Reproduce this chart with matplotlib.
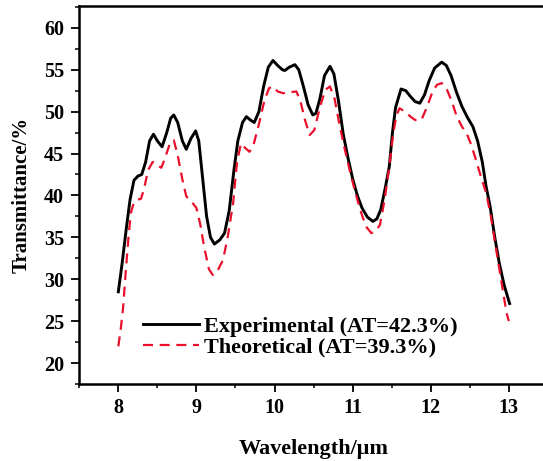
import numpy as np
import matplotlib.pyplot as plt
from matplotlib.ticker import MultipleLocator

# measured (black) curve
wl_exp = [8.00, 8.05, 8.10, 8.15, 8.20, 8.25, 8.30, 8.35, 8.40, 8.45,
          8.50, 8.56, 8.62, 8.67, 8.71, 8.76, 8.82, 8.87, 8.93, 8.99,
          9.03, 9.08, 9.13, 9.18, 9.23, 9.30, 9.36, 9.42, 9.48, 9.53,
          9.59, 9.64, 9.69, 9.74, 9.80, 9.86, 9.92, 9.98, 10.04, 10.10,
          10.13, 10.19, 10.26, 10.31, 10.37, 10.43, 10.49, 10.53, 10.58, 10.64,
          10.71, 10.76, 10.82, 10.88, 10.94, 11.00, 11.06, 11.12, 11.19, 11.26,
          11.31, 11.36, 11.42, 11.47, 11.51, 11.55, 11.62, 11.68, 11.74, 11.80,
          11.86, 11.92, 11.98, 12.05, 12.14, 12.20, 12.26, 12.33, 12.40, 12.47,
          12.54, 12.60, 12.66, 12.71, 12.76, 12.82, 12.88, 12.94, 13.01]
t_exp = [28.5, 32.0, 35.9, 39.5, 41.8, 42.3, 42.5, 44.0, 46.5, 47.3,
         46.5, 45.8, 47.5, 49.2, 49.6, 48.7, 46.5, 45.5, 46.8, 47.7,
         46.5, 42.0, 37.5, 35.0, 34.2, 34.7, 35.5, 38.2, 43.0, 46.5,
         48.7, 49.4, 49.0, 48.7, 50.0, 53.0, 55.3, 56.1, 55.5, 55.0,
         54.9, 55.3, 55.6, 55.0, 53.0, 50.8, 49.6, 49.8, 51.5, 54.3,
         55.4, 54.5, 51.2, 47.3, 44.5, 42.0, 40.0, 38.5, 37.4, 36.9,
         37.2, 38.3, 41.0, 43.5, 47.5, 50.5, 52.7, 52.5, 51.8, 51.2,
         51.0, 52.0, 53.7, 55.2, 55.9, 55.5, 54.3, 52.3, 50.6, 49.3,
         48.2, 46.5, 44.0, 41.0, 38.7, 35.0, 31.8, 29.3, 27.1]

# simulated (red dashed) curve
wl_th = [8.00, 8.03, 8.06, 8.10, 8.13, 8.16, 8.20, 8.25, 8.29, 8.33,
         8.38, 8.44, 8.50, 8.55, 8.60, 8.66, 8.71, 8.76, 8.82, 8.87,
         8.95, 9.00, 9.05, 9.10, 9.16, 9.21, 9.28, 9.34, 9.40, 9.47,
         9.52, 9.57, 9.62, 9.68, 9.73, 9.80, 9.87, 9.93, 9.98, 10.04,
         10.11, 10.19, 10.28, 10.33, 10.39, 10.45, 10.51, 10.58, 10.65, 10.71,
         10.77, 10.83, 10.90, 10.96, 11.03, 11.10, 11.17, 11.24, 11.30, 11.35,
         11.41, 11.47, 11.52, 11.56, 11.60, 11.67, 11.74, 11.80, 11.88, 11.95,
         12.02, 12.08, 12.14, 12.20, 12.27, 12.33, 12.40, 12.46, 12.52, 12.58,
         12.65, 12.71, 12.77, 12.83, 12.90, 12.97, 13.00]
t_th = [22.0, 24.0, 26.5, 31.5, 35.0, 37.9, 39.2, 39.5, 39.6, 40.8,
        43.0, 44.0, 43.6, 43.3, 44.5, 46.2, 46.6, 44.8, 41.9, 39.9,
        39.1, 38.5, 36.5, 33.8, 31.2, 30.5, 31.2, 32.3, 35.0, 39.1,
        44.0, 46.2, 45.7, 45.2, 46.0, 48.5, 51.3, 52.8, 53.0, 52.4,
        52.2, 52.3, 52.4, 51.3, 49.0, 47.2, 47.8, 50.5, 52.6, 53.0,
        51.5, 48.5, 45.5, 43.1, 40.5, 38.2, 36.3, 35.5, 35.8, 36.5,
        39.5, 43.5, 47.4, 49.5, 50.4, 50.0, 49.4, 49.0, 49.0, 50.5,
        52.3, 53.2, 53.4, 52.8, 51.2, 49.5, 48.2, 47.4, 46.0, 44.2,
        42.0, 40.3, 37.5, 34.0, 30.0, 26.0, 25.0]

labels = ["Experimental (AT=42.3%)", "Theoretical (AT=39.3%)"]

plt.rcParams['font.family'] = ['Liberation Serif', 'DejaVu Serif']
plt.rcParams['font.weight'] = 'bold'

fig = plt.figure(figsize=(5.43, 4.61), dpi=100)
ax = fig.add_axes([0.146, 0.167, 1.009 - 0.146, 0.987 - 0.167])

ax.plot(wl_exp, t_exp, color='black', lw=2.1, label=labels[0],
        solid_joinstyle='round')
ax.plot(wl_th, t_th, color='#e8102a', lw=1.6, dashes=(4.5, 3), label=labels[1])

ax.set_xlim(7.5, 13.5)
ax.set_ylim(17.5, 62.6)
ax.xaxis.set_major_locator(MultipleLocator(1))
ax.xaxis.set_minor_locator(MultipleLocator(0.5))
ax.yaxis.set_major_locator(MultipleLocator(5))
ax.yaxis.set_minor_locator(MultipleLocator(2.5))

for s in ax.spines.values():
    s.set_linewidth(1.8)
ax.spines['right'].set_visible(False)

ax.tick_params(which='major', direction='out', length=6, width=1.3, labelsize=14.5)
ax.tick_params(which='minor', direction='out', length=3, width=1.1)
ax.tick_params(axis='x', pad=4)
ax.tick_params(axis='y', pad=5)
for lab in ax.get_xticklabels() + ax.get_yticklabels():
    lab.set_fontweight('bold')

ax.set_xlabel("Wavelength/\u03bcm", fontsize=16, fontweight='bold', labelpad=15)
ax.set_ylabel("Transmittance/%", fontsize=15, fontweight='bold', labelpad=9)

ax.legend(loc='lower left', bbox_to_anchor=(0.094, 0.016), frameon=False,
          prop={'size': 16, 'weight': 'bold'}, handlelength=2.5,
          handletextpad=0.25, labelspacing=0.02)

fig.savefig('out.png', dpi=100)
